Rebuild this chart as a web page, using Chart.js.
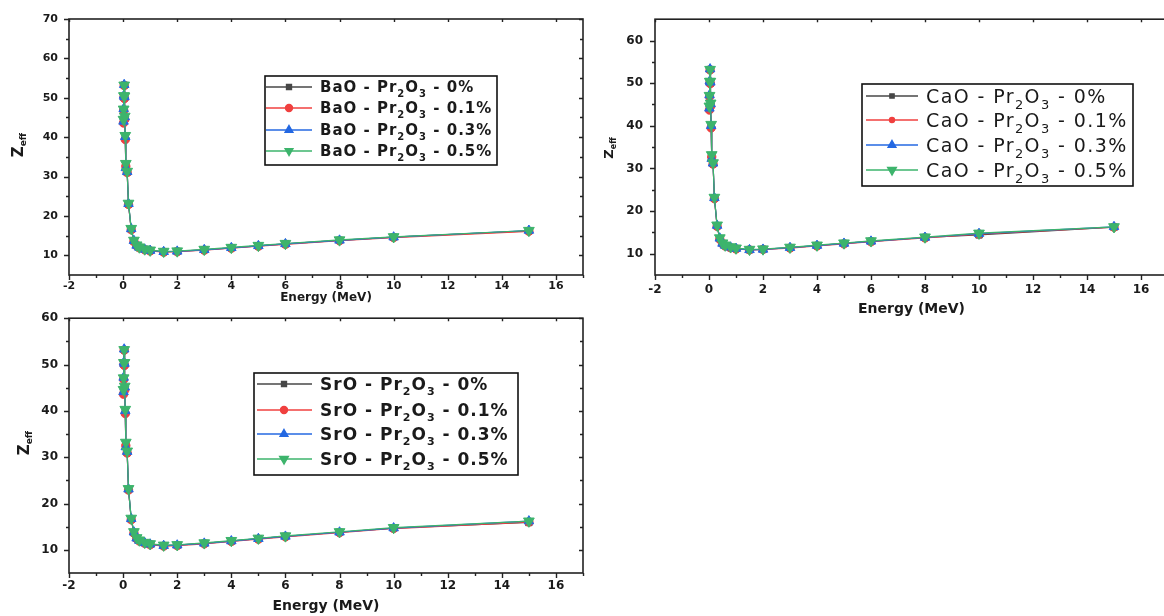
<!DOCTYPE html>
<html>
<head>
<meta charset="utf-8">
<script src="https://cdn.jsdelivr.net/npm/chart.js@4.4.1/dist/chart.umd.min.js"></script>
<style>
html, body { margin:0; padding:0; background:#fff; width:1164px; height:616px; overflow:hidden; }
canvas { position:absolute; display:block; }
</style>
</head>
<body>
<canvas id="chartBaO" width="600" height="310" style="left:0;top:0"></canvas>
<canvas id="chartCaO" width="600" height="320" style="left:600px;top:0"></canvas>
<canvas id="chartSrO" width="600" height="316" style="left:0;top:300px"></canvas>
<script>
// ---------------- data ----------------
const energies = [0.015, 0.02, 0.03, 0.04, 0.05, 0.06, 0.08, 0.1, 0.15, 0.2, 0.3, 0.4, 0.5, 0.6, 0.8, 1, 1.5, 2, 3, 4, 5, 6, 8, 10, 15];
const concentrations = ['0%', '0.1%', '0.3%', '0.5%'];
const xTickValues = [-2, 0, 2, 4, 6, 8, 10, 12, 14, 16];
const yTicksBaO = [10, 20, 30, 40, 50, 60, 70];
const yTicksCaO = [10, 20, 30, 40, 50, 60];
const yTicksSrO = [10, 20, 30, 40, 50, 60];

const zeffBaO_0  = [44.2, 47.0, 50.3, 53.2, 50.0, 45.0, 39.8, 33.0, 31.1, 23.0, 16.6, 13.6, 12.5, 12.0, 11.5, 11.2, 10.9, 11.0, 11.4, 11.9, 12.4, 12.9, 13.8, 14.6, 16.2];
const zeffBaO_01 = [43.6, 46.8, 50.1, 53.1, 49.8, 44.5, 39.4, 32.6, 31.0, 22.9, 16.5, 13.5, 12.4, 11.9, 11.4, 11.1, 10.8, 10.9, 11.3, 11.8, 12.3, 12.8, 13.7, 14.5, 16.1];
const zeffBaO_03 = [44.0, 47.2, 50.6, 53.3, 50.2, 45.1, 40.1, 32.2, 31.2, 23.1, 16.7, 13.7, 12.5, 12.0, 11.5, 11.2, 10.9, 11.0, 11.4, 11.9, 12.4, 12.9, 13.8, 14.6, 16.3];
const zeffBaO_05 = [44.5, 47.1, 50.5, 53.2, 50.4, 45.3, 40.4, 33.3, 31.3, 23.2, 16.8, 13.8, 12.6, 12.1, 11.6, 11.3, 11.0, 11.1, 11.5, 12.0, 12.5, 13.0, 13.9, 14.7, 16.3];

const zeffCaO_0  = [44.0, 47.0, 50.2, 53.2, 50.0, 45.0, 39.8, 33.0, 31.1, 23.0, 16.5, 13.5, 12.4, 11.9, 11.4, 11.2, 10.9, 11.0, 11.4, 11.9, 12.4, 12.9, 13.8, 14.4, 16.2];
const zeffCaO_01 = [43.7, 46.9, 50.0, 53.1, 49.9, 44.6, 39.5, 32.7, 31.0, 22.9, 16.4, 13.4, 12.3, 11.8, 11.4, 11.1, 10.9, 11.0, 11.3, 11.8, 12.3, 12.8, 13.7, 14.6, 16.2];
const zeffCaO_03 = [44.1, 47.2, 50.5, 53.3, 50.2, 45.1, 40.0, 32.3, 31.2, 23.1, 16.6, 13.6, 12.4, 11.9, 11.5, 11.2, 10.9, 11.0, 11.4, 11.9, 12.4, 12.9, 13.8, 14.7, 16.3];
const zeffCaO_05 = [44.6, 47.1, 50.4, 53.2, 50.4, 45.3, 40.3, 33.2, 31.3, 23.2, 16.7, 13.7, 12.5, 12.0, 11.6, 11.3, 11.0, 11.1, 11.5, 12.0, 12.5, 13.0, 13.9, 14.8, 16.3];

const zeffSrO_0  = [44.0, 47.0, 50.1, 53.2, 50.0, 45.0, 39.7, 32.9, 31.0, 23.0, 16.6, 13.7, 12.5, 12.0, 11.5, 11.2, 10.9, 11.0, 11.4, 11.9, 12.4, 12.9, 13.8, 14.7, 15.9];
const zeffSrO_01 = [43.6, 46.8, 50.0, 53.1, 49.8, 44.5, 39.4, 32.5, 30.9, 22.9, 16.5, 13.6, 12.4, 11.9, 11.4, 11.1, 10.8, 10.9, 11.3, 11.8, 12.3, 12.8, 13.7, 14.6, 16.0];
const zeffSrO_03 = [44.1, 47.2, 50.5, 53.3, 50.2, 45.1, 40.0, 32.2, 31.2, 23.1, 16.7, 13.8, 12.5, 12.0, 11.5, 11.2, 10.9, 11.0, 11.4, 11.9, 12.4, 12.9, 13.8, 14.7, 16.2];
const zeffSrO_05 = [44.6, 47.1, 50.4, 53.2, 50.4, 45.3, 40.3, 33.2, 31.3, 23.2, 16.8, 13.9, 12.6, 12.1, 11.6, 11.3, 11.0, 11.1, 11.5, 12.0, 12.5, 13.0, 13.9, 14.8, 16.2];

// ---------------- styles ----------------
const seriesColors = ['#474747', '#f0403f', '#2468e2', '#3db46c'];
const seriesPointStyles = ['rect', 'circle', 'triangle', 'triangle'];
const seriesRotations = [0, 0, 0, 180];
const seriesPointRadius = [4.5, 4.2, 5.5, 6.2];
const FONT = 'DejaVu Sans';
const TXT = '#1a1a1a';

function parseLabel(label) {
  const parts = []; let buf = '';
  for (let i = 0; i < label.length; i++) {
    if (label[i] === '_') { if (buf) parts.push({t: buf}); buf = ''; parts.push({t: label[i + 1], sub: true}); i++; }
    else buf += label[i];
  }
  if (buf) parts.push({t: buf});
  return parts;
}

const legendPlugin = {
  id: 'subLegend',
  afterDraw(chart, args, o) {
    const ctx = chart.ctx;
    ctx.save();
    ctx.strokeStyle = '#111';
    ctx.lineWidth = 1.6;
    ctx.strokeRect(o.box.x, o.box.y, o.box.w, o.box.h);
    chart.data.datasets.forEach((ds, i) => {
      const y = o.rows[i];
      ctx.strokeStyle = ds.borderColor;
      ctx.fillStyle = ds.borderColor;
      ctx.lineWidth = 1.4;
      ctx.beginPath(); ctx.moveTo(o.line[0], y); ctx.lineTo(o.line[1], y); ctx.stroke();
      Chart.helpers.drawPoint(ctx, {pointStyle: ds.pointStyle, rotation: ds.pointRotation || 0, radius: o.markerRadius[i], borderWidth: 1}, o.markerX, y);
      ctx.fillStyle = TXT;
      ctx.textBaseline = 'alphabetic';
      ctx.textAlign = 'left';
      let cx = o.textX;
      const base = y + o.size * 0.36;
      for (const p of parseLabel(ds.label)) {
        const fs = p.sub ? Math.round(o.size * 0.66) : o.size;
        ctx.font = `${o.weight} ${fs}px ${FONT}`;
        ctx.letterSpacing = o.spacing + 'px';
        ctx.fillText(p.t, cx, base + (p.sub ? o.size * 0.3 : 0));
        cx += ctx.measureText(p.t).width;
      }
    });
    ctx.restore();
  }
};

const framePlugin = {
  id: 'originFrame',
  afterDatasetsDraw(chart, args, o) {
    const {ctx, chartArea: a, scales: {x, y}} = chart;
    ctx.save();
    ctx.strokeStyle = '#222';
    ctx.lineWidth = 1.6;
    ctx.strokeRect(a.left, a.top, a.right - a.left, a.bottom - a.top);
    ctx.lineWidth = 1.4;
    const xt = x.ticks.map(t => t.value);
    const yt = y.ticks.map(t => t.value);
    ctx.beginPath();
    xt.forEach((v) => {
      const px = Math.round(x.getPixelForValue(v)) + 0.5;
      ctx.moveTo(px, a.bottom); ctx.lineTo(px, a.bottom + 5);
      ctx.moveTo(px, a.top); ctx.lineTo(px, a.top + 3);
      const mv = v + (xt[1] - xt[0]) / 2;
      const pm = Math.round(x.getPixelForValue(mv)) + 0.5;
      ctx.moveTo(pm, a.bottom); ctx.lineTo(pm, a.bottom + 3);
    });
    yt.forEach((v) => {
      const py = Math.round(y.getPixelForValue(v)) + 0.5;
      ctx.moveTo(a.left - 5, py); ctx.lineTo(a.left, py);
      ctx.moveTo(a.right - 4, py); ctx.lineTo(a.right, py);
      const mv = v + (yt[1] - yt[0]) / 2;
      if (mv < y.max) {
        const pm = Math.round(y.getPixelForValue(mv)) + 0.5;
        ctx.moveTo(a.left - 3, pm); ctx.lineTo(a.left, pm);
        ctx.moveTo(a.right - 3, pm); ctx.lineTo(a.right, pm);
      }
    });
    ctx.stroke();
    ctx.restore();
  }
};

const yTitlePlugin = {
  id: 'yTitle',
  afterDraw(chart, args, o) {
    const ctx = chart.ctx;
    ctx.save();
    ctx.translate(o.x, o.y);
    ctx.rotate(-Math.PI / 2);
    ctx.fillStyle = TXT;
    ctx.textBaseline = 'alphabetic';
    ctx.textAlign = 'left';
    const fMain = `bold ${o.size}px ${FONT}`, fSub = `bold ${o.subSize}px ${FONT}`;
    ctx.font = fMain; const w1 = ctx.measureText('Z').width;
    ctx.font = fSub; const w2 = ctx.measureText('eff').width;
    const start = -(w1 + w2) / 2;
    ctx.font = fMain; ctx.fillText('Z', start, 0);
    ctx.font = fSub; ctx.fillText('eff', start + w1, o.subShift);
    ctx.restore();
  }
};

function makePanel(id, oxide, seriesValues, yTicks, yMax, c) {
  const datasets = seriesValues.map((vals, i) => ({
    label: `${oxide} - Pr_2O_3 - ${concentrations[i]}`,
    data: energies.map((e, k) => ({x: e, y: vals[k]})),
    borderColor: seriesColors[i],
    backgroundColor: seriesColors[i],
    pointBackgroundColor: seriesColors[i],
    pointBorderColor: seriesColors[i],
    pointStyle: seriesPointStyles[i],
    pointRotation: seriesRotations[i],
    pointRadius: seriesPointRadius[i],
    pointBorderWidth: 1,
    borderWidth: 1.2,
    tension: 0,
    order: 3 - i
  }));
  return new Chart(document.getElementById(id), {
    type: 'line',
    data: {datasets},
    plugins: [framePlugin, legendPlugin, yTitlePlugin],
    options: {
      responsive: false,
      animation: false,
      devicePixelRatio: 1,
      layout: {padding: c.padding},
      scales: {
        x: {
          type: 'linear', min: -2, max: 17,
          afterBuildTicks: s => { s.ticks = xTickValues.map(v => ({value: v})); },
          afterFit: s => { s.height = c.xHeight; },
          grid: {display: false, drawTicks: false},
          border: {display: false},
          ticks: {color: TXT, font: {family: FONT, weight: 'bold', size: c.tickSize}, padding: c.xTickPad, maxRotation: 0, autoSkip: false},
          title: {display: true, text: 'Energy (MeV)', color: TXT, font: {family: FONT, weight: 'bold', size: c.titleSize}, padding: {top: 0, bottom: c.titlePad}}
        },
        y: {
          type: 'linear', min: 5, max: yMax,
          afterBuildTicks: s => { s.ticks = yTicks.map(v => ({value: v})); },
          afterFit: s => { s.width = c.yWidth; },
          grid: {display: false, drawTicks: false},
          border: {display: false},
          ticks: {color: TXT, font: {family: FONT, weight: 'bold', size: c.tickSize}, padding: c.yTickPad}
        }
      },
      plugins: {
        legend: {display: false},
        tooltip: {enabled: false},
        subLegend: c.legend,
        yTitle: c.yTitle
      }
    }
  });
}

makePanel('chartBaO', 'BaO', [zeffBaO_0, zeffBaO_01, zeffBaO_03, zeffBaO_05], yTicksBaO, 70, {
  padding: {left: 0, top: 19, right: 17, bottom: 0},
  xHeight: 35, yWidth: 69, tickSize: 11, xTickPad: 5, yTickPad: 11, titleSize: 12, titlePad: 5,
  legend: {box: {x: 265, y: 76, w: 232, h: 89}, rows: [87, 108, 130, 151], line: [266, 312], markerX: 289, textX: 320,
           size: 15, weight: 'bold', spacing: 1, markerRadius: [3.5, 3.5, 4.5, 4.5]},
  yTitle: {x: 23, y: 145, size: 15, subSize: 9, subShift: 3}
});

makePanel('chartCaO', 'CaO', [zeffCaO_0, zeffCaO_01, zeffCaO_03, zeffCaO_05], yTicksCaO, 65, {
  padding: {left: 0, top: 19, right: 32, bottom: 0},
  xHeight: 45, yWidth: 55, tickSize: 12, xTickPad: 8, yTickPad: 12, titleSize: 14, titlePad: 2,
  legend: {box: {x: 262, y: 84, w: 271, h: 102}, rows: [96, 120, 145, 170], line: [266, 318], markerX: 292, textX: 326,
           size: 19, weight: 'normal', spacing: 1.4, markerRadius: [3, 2.5, 4.5, 5]},
  yTitle: {x: 13, y: 148, size: 13, subSize: 8, subShift: 3}
});

makePanel('chartSrO', 'SrO', [zeffSrO_0, zeffSrO_01, zeffSrO_03, zeffSrO_05], yTicksSrO, 60, {
  padding: {left: 0, top: 15, right: 17, bottom: 0},
  xHeight: 43, yWidth: 69, tickSize: 12, xTickPad: 6, yTickPad: 11, titleSize: 14, titlePad: 1,
  legend: {box: {x: 254, y: 73, w: 264, h: 102}, rows: [84, 110, 134, 159], line: [257, 312], markerX: 284, textX: 320,
           size: 17, weight: 'bold', spacing: 1, markerRadius: [3.5, 3.5, 4.5, 5]},
  yTitle: {x: 29, y: 143, size: 15, subSize: 9, subShift: 3}
});
</script>
</body>
</html>
